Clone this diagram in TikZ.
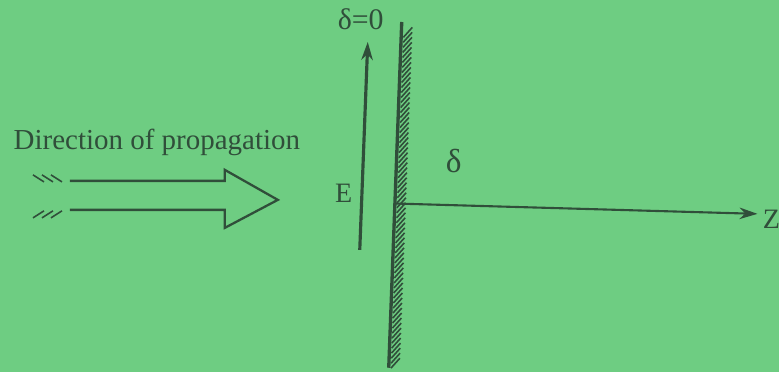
\documentclass[tikz,border=0pt]{standalone}
\usepackage{fontspec}
\setmainfont{Liberation Serif}
\usetikzlibrary{arrows.meta,positioning,calc}
\definecolor{bg}{RGB}{110,205,130}
\definecolor{ink}{RGB}{48,78,58}
\tikzset{
  ln/.style={draw=ink,line width=1.3pt},
  ar/.style={-{Stealth[length=3.6mm,width=2.3mm]}},
  lbl/.style={text=ink,inner sep=0pt},
  hatch/.style={draw=ink,line width=0.9pt},
}

\begin{document}
\begin{tikzpicture}[x=0.02cm,y=-0.02cm]
  % background fixes the size
  \fill[bg] (0,0) rectangle (780,372);
  % wall with hatching
  \coordinate (wtop) at (402,22);
  \coordinate (wbot) at (389,368);
  \draw[ln,line width=1.9pt] (wtop) -- (wbot);
  \foreach \i in {0,...,66}
    \draw[hatch] ($(wtop)!{0.03+\i*0.0145}!(wbot)+(2,5)$) -- ++(9,-10);
  % labels
  \node[lbl,font=\fontsize{17}{19}\selectfont] (dzero) at (361,19) {δ=0};
  \node[lbl,font=\fontsize{19}{21}\selectfont] (dlt) at (454,161) {δ};
  \node[lbl,font=\fontsize{16}{18}\selectfont] (efield) at (344,193) {E};
  \node[lbl,font=\fontsize{16.5}{19}\selectfont] (dir) at (157,143) {Direction of propagation};
  % field vector
  \coordinate (ebot) at (360,250);
  \coordinate (etop) at (368,42);
  \draw[ln,ar,line width=1.8pt] (ebot) -- (etop);
  % z axis
  \coordinate (orig) at ($(wtop)!0.525!(wbot)$);
  \coordinate (zend) at (758,214);
  \node[lbl,anchor=west,font=\fontsize{16}{18}\selectfont] (zlab) at (763,219) {Z};
  \draw[ln,ar,line width=1.2pt] (orig) -- (zend);
  % hollow arrow
  \coordinate (sup) at (70,181);
  \coordinate (slo) at (70,210);
  \coordinate (tip) at (278,200);
  \draw[ln,line join=miter] (sup) -- (225,181) -- (225,170) -- (tip)
    -- (225,228) -- (225,210) -- (slo);
  \foreach \x in {33,42,51}
    \draw[hatch] (\x,175) -- ++(11,7);
  \foreach \x in {33,42,51}
    \draw[hatch] (\x,218) -- ++(11,-7);
\end{tikzpicture}
\end{document}
